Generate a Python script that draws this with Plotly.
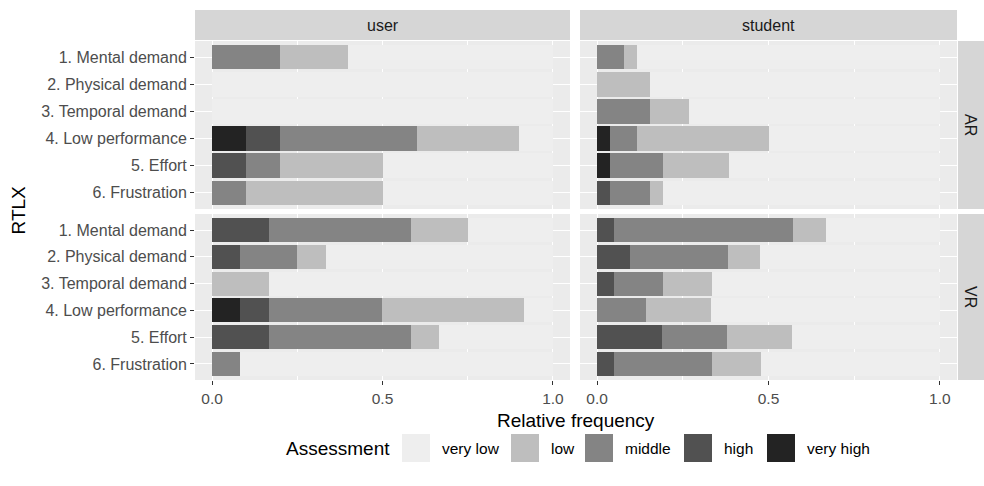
import plotly.graph_objects as go

W, H = 984, 486

categories = ["1. Mental demand", "2. Physical demand", "3. Temporal demand",
              "4. Low performance", "5. Effort", "6. Frustration"]
levels = ["very low", "low", "middle", "high", "very high"]
level_colors = ["#EEEEEE", "#BEBEBE", "#848484", "#515151", "#232323"]
columns = ["user", "student"]
rows = ["AR", "VR"]

# relative frequencies (order of categories above)
user_ar_very_high = [0, 0, 0, 0.1, 0, 0]
user_ar_high = [0, 0, 0, 0.1, 0.1, 0]
user_ar_middle = [0.2, 0, 0, 0.4, 0.1, 0.1]
user_ar_low = [0.2, 0, 0, 0.3, 0.3, 0.4]
user_ar_very_low = [0.6, 1.0, 1.0, 0.1, 0.5, 0.5]

student_ar_very_high = [0, 0, 0, 0.038, 0.038, 0]
student_ar_high = [0, 0, 0, 0, 0, 0.038]
student_ar_middle = [0.077, 0, 0.154, 0.077, 0.154, 0.115]
student_ar_low = [0.038, 0.154, 0.115, 0.385, 0.192, 0.038]
student_ar_very_low = [0.885, 0.846, 0.731, 0.5, 0.616, 0.809]

user_vr_very_high = [0, 0, 0, 0.083, 0, 0]
user_vr_high = [0.167, 0.083, 0, 0.083, 0.167, 0]
user_vr_middle = [0.417, 0.167, 0, 0.333, 0.417, 0.083]
user_vr_low = [0.167, 0.083, 0.167, 0.417, 0.083, 0]
user_vr_very_low = [0.249, 0.667, 0.833, 0.084, 0.333, 0.917]

student_vr_very_high = [0, 0, 0, 0, 0, 0]
student_vr_high = [0.048, 0.095, 0.048, 0, 0.190, 0.048]
student_vr_middle = [0.524, 0.286, 0.143, 0.143, 0.190, 0.286]
student_vr_low = [0.095, 0.095, 0.143, 0.190, 0.190, 0.143]
student_vr_very_low = [0.333, 0.524, 0.666, 0.667, 0.430, 0.523]

x_ticks = [0, 0.5, 1.0]
x_ticktext = ["0.0", "0.5", "1.0"]

panels = {
    ("user", "AR"): [user_ar_very_low, user_ar_low, user_ar_middle, user_ar_high, user_ar_very_high],
    ("student", "AR"): [student_ar_very_low, student_ar_low, student_ar_middle, student_ar_high, student_ar_very_high],
    ("user", "VR"): [user_vr_very_low, user_vr_low, user_vr_middle, user_vr_high, user_vr_very_high],
    ("student", "VR"): [student_vr_very_low, student_vr_low, student_vr_middle, student_vr_high, student_vr_very_high],
}

# layout geometry in pixels
col_px = [(195, 570), (580, 957)]
row_px = [(41, 209), (214, 380)]
strip_top = (10, 40)
strip_right = (958, 984)

def px_x(v):
    return v / W

def px_y(v):
    return 1 - v / H

FONT = "Liberation Sans, Arial, sans-serif"
fig = go.Figure()

layout_axes = {}
idx = 0
for r, row in enumerate(rows):
    for c, col in enumerate(columns):
        idx += 1
        xa = "x" if idx == 1 else f"x{idx}"
        ya = "y" if idx == 1 else f"y{idx}"
        vals = panels[(col, row)]
        # stack from very high (left) to very low (right)
        for li in range(len(levels) - 1, -1, -1):
            fig.add_trace(go.Bar(
                y=categories, x=vals[li], orientation="h",
                marker=dict(color=level_colors[li], line=dict(width=0)),
                width=0.9, name=levels[li], showlegend=False,
                xaxis=xa, yaxis=ya,
                hovertemplate=f"{col} / {row}<br>%{{y}}<br>{levels[li]}: %{{x:.3f}}<extra></extra>",
            ))
        xk = "xaxis" if idx == 1 else f"xaxis{idx}"
        yk = "yaxis" if idx == 1 else f"yaxis{idx}"
        bottom = (r == len(rows) - 1)
        left = (c == 0)
        layout_axes[xk] = dict(
            domain=[px_x(col_px[c][0]), px_x(col_px[c][1])],
            anchor=ya, range=[-0.05, 1.05], tickvals=x_ticks, ticktext=x_ticktext,
            showticklabels=bottom, ticks="outside" if bottom else "", ticklen=4,
            tickwidth=1, tickcolor="#333333",
            showgrid=True, gridcolor="white", gridwidth=1.2, zeroline=False,
            showline=False,
            minor=dict(tickvals=[0.25, 0.75], showgrid=True, gridcolor="white", gridwidth=0.6, ticks=""),
            tickfont=dict(family=FONT, size=15.5, color="#4D4D4D"),
            fixedrange=True,
        )
        layout_axes[yk] = dict(
            domain=[px_y(row_px[r][1]), px_y(row_px[r][0])],
            anchor=xa, type="category", categoryorder="array", categoryarray=categories,
            range=[5.6, -0.6],
            showticklabels=left, ticks="outside" if left else "", ticklen=4,
            tickwidth=1, tickcolor="#333333",
            showgrid=True, gridcolor="white", gridwidth=1.2, zeroline=False, showline=False,
            tickfont=dict(family=FONT, size=16, color="#4D4D4D"),
            fixedrange=True,
        )

shapes = []
annotations = []
# top strips
for c, col in enumerate(columns):
    shapes.append(dict(type="rect", xref="paper", yref="paper",
                       x0=px_x(col_px[c][0]), x1=px_x(col_px[c][1]),
                       y0=px_y(strip_top[1]), y1=px_y(strip_top[0]),
                       fillcolor="#D6D6D6", line=dict(width=0), layer="below"))
    annotations.append(dict(text=col, xref="paper", yref="paper",
                            x=px_x((col_px[c][0] + col_px[c][1]) / 2),
                            y=px_y((strip_top[0] + strip_top[1]) / 2),
                            showarrow=False, xanchor="center", yanchor="middle",
                            font=dict(family=FONT, size=16, color="#1A1A1A")))
# right strips
for r, row in enumerate(rows):
    shapes.append(dict(type="rect", xref="paper", yref="paper",
                       x0=px_x(strip_right[0]), x1=px_x(strip_right[1]),
                       y0=px_y(row_px[r][1]), y1=px_y(row_px[r][0]),
                       fillcolor="#D6D6D6", line=dict(width=0), layer="below"))
    annotations.append(dict(text=row, xref="paper", yref="paper",
                            x=px_x((strip_right[0] + strip_right[1]) / 2),
                            y=px_y((row_px[r][0] + row_px[r][1]) / 2),
                            showarrow=False, xanchor="center", yanchor="middle", textangle=90,
                            font=dict(family=FONT, size=16, color="#1A1A1A")))

# axis titles
annotations.append(dict(text="Relative frequency", xref="paper", yref="paper",
                        x=px_x((col_px[0][0] + col_px[1][1]) / 2), y=px_y(420),
                        showarrow=False, xanchor="center", yanchor="middle",
                        font=dict(family=FONT, size=19, color="#000000")))
annotations.append(dict(text="RTLX", xref="paper", yref="paper",
                        x=px_x(18), y=px_y((row_px[0][0] + row_px[1][1]) / 2),
                        showarrow=False, xanchor="center", yanchor="middle", textangle=-90,
                        font=dict(family=FONT, size=19, color="#000000")))

# legend (drawn as keys + labels)
legend_y = 448
annotations.append(dict(text="Assessment", xref="paper", yref="paper",
                        x=px_x(284), y=px_y(legend_y), showarrow=False,
                        xanchor="left", yanchor="middle",
                        font=dict(family=FONT, size=19, color="#000000")))
key_x = [402, 511, 585, 684, 767]
key_size = 28
for i, lev in enumerate(levels):
    x0 = key_x[i]
    shapes.append(dict(type="rect", xref="paper", yref="paper",
                       x0=px_x(x0), x1=px_x(x0 + key_size),
                       y0=px_y(legend_y + key_size / 2), y1=px_y(legend_y - key_size / 2),
                       fillcolor=level_colors[i], line=dict(width=0)))
    annotations.append(dict(text=lev, xref="paper", yref="paper",
                            x=px_x(x0 + 38), y=px_y(legend_y), showarrow=False,
                            xanchor="left", yanchor="middle",
                            font=dict(family=FONT, size=15.5, color="#000000")))

fig.update_layout(
    width=W, height=H,
    margin=dict(l=0, r=0, t=0, b=0),
    paper_bgcolor="white", plot_bgcolor="#EBEBEB",
    barmode="stack", bargap=0.1,
    showlegend=False,
    shapes=shapes, annotations=annotations,
    font=dict(family=FONT),
    **layout_axes,
)

fig.write_html("out.html", config={"displayModeBar": False},
               post_script="document.body.style.margin='0';document.body.style.overflow='hidden';")
